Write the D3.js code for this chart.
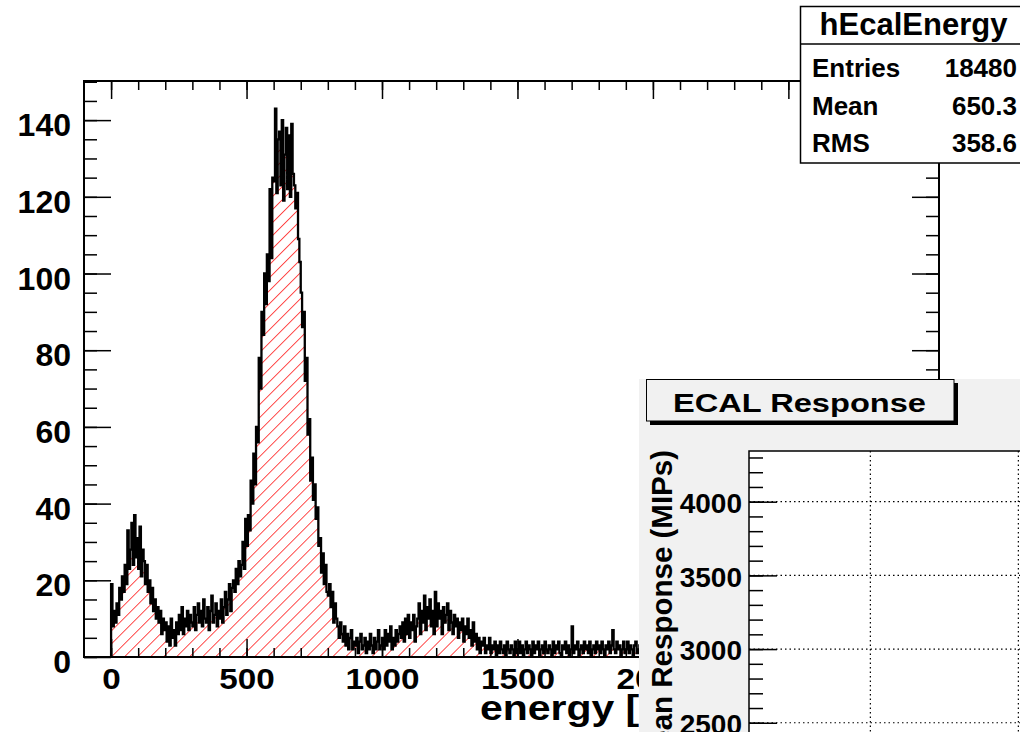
<!DOCTYPE html>
<html>
<head>
<meta charset="utf-8">
<script src="https://cdn.jsdelivr.net/npm/d3@7"></script>
<style>
  body { margin: 0; background: #fff; }
  svg { display: block; }
</style>
</head>
<body>
<div class="chart"></div>
<script>
// hEcalEnergy histogram, bins of 5 starting at 0
var binWidth = 5;
var energyCounts = [
  19, 8, 12, 9, 14, 11, 18, 15, 21, 17, 24, 19, 33, 23, 28, 35, 24, 37, 26, 31,          // 0-95
  23, 34, 21, 28, 25, 19, 24, 17, 20, 14, 18, 12, 15, 10, 13, 9, 12, 6, 10, 7,            // 100-195
  9, 4, 8, 3, 10, 5, 7, 3, 9, 6, 11, 7, 13, 6, 10, 8, 12, 7, 11, 9,                       // 200-295
  8, 13, 7, 11, 14, 9, 12, 8, 15, 10, 9, 13, 7, 12, 16, 9, 11, 14, 8, 12,                 // 300-395
  10, 15, 9, 13, 17, 11, 15, 19, 12, 18, 20, 17, 23, 19, 25, 21, 24, 30, 23, 36,          // 400-495
  29, 37, 33, 46, 40, 53, 45, 60, 56, 78, 70, 90, 84, 100, 92, 105, 98, 122, 104, 125,    // 500-595
  124, 143, 121, 135, 137, 123, 140, 119, 131, 138, 122, 136, 120, 139, 126, 123, 117, 121, 109, 103, // 600-695
  95, 86, 90, 72, 78, 58, 62, 46, 52, 41, 45, 36, 39, 29, 31, 22, 27, 19, 24, 17,         // 700-795
  16, 19, 13, 17, 9, 14, 10, 8, 5, 9, 6, 4, 8, 3, 6, 2, 5, 7, 2, 4,                       // 800-895
  3, 5, 1, 4, 6, 2, 3, 5, 1, 4, 2, 6, 3, 1, 5, 2, 4, 7, 2, 3,                             // 900-995
  5, 2, 7, 3, 6, 4, 8, 2, 5, 3, 7, 4, 6, 8, 5, 9, 4, 10, 6, 11,                           // 1000-1095
  5, 9, 7, 11, 4, 8, 10, 14, 6, 12, 9, 16, 7, 13, 10, 15, 8, 12, 6, 17,                   // 1100-1195
  8, 14, 10, 12, 6, 13, 9, 11, 14, 7, 12, 9, 6, 11, 8, 10, 5, 9, 7, 10,                   // 1200-1295
  4, 8, 6, 10, 5, 7, 3, 9, 4, 6, 2, 5, 1, 4, 3, 5, 1, 3, 2, 5,                            // 1300-1395
  1, 3, 2, 4, 0, 3, 1, 4, 2, 1, 3, 0, 4, 2, 1, 3, 2, 0, 4, 1,                             // 1400-1495
  2, 4, 1, 3, 0, 2, 4, 1, 3, 2, 0, 4, 1, 3, 2, 4, 0, 2, 3, 1,                             // 1500-1595
  4, 2, 1, 3, 2, 0, 4, 1, 3, 2, 4, 1, 0, 3, 2, 4, 1, 3, 0, 2,                             // 1600-1695
  8, 1, 3, 2, 4, 0, 2, 3, 1, 4, 2, 3, 1, 4, 0, 2, 3, 1, 4, 2,                             // 1700-1795
  3, 1, 4, 2, 0, 3, 2, 4, 1, 3, 7, 2, 1, 4, 2, 3, 0, 2, 4, 1,                             // 1800-1895
  2, 4, 1, 3, 2, 0, 3, 4, 1, 2, 3, 1, 4, 2, 0, 3, 2, 4, 1, 3                              // 1900-1995
];
var xTicks = [0, 500, 1000, 1500, 2000, 2500, 3000];
var yTicks = [0, 20, 40, 60, 80, 100, 120, 140];
var statsNames = ["Entries", "Mean", "RMS"];
var statsValues = ["18480", "650.3", "358.6"];
var ecalYTicks = [2500, 3000, 3500, 4000];
var ecalXTicks = [10, 20];

var svgWidth = 1020, svgHeight = 732;
var frame = {left: 84, top: 81, right: 939, bottom: 657};
var fontFam = "'Liberation Sans', Arial, Helvetica, sans-serif";

var svg = d3.select(".chart").append("svg")
    .attr("width", svgWidth)
    .attr("height", svgHeight)
    .attr("font-family", fontFam)
    .attr("font-weight", "bold");

var x = d3.scaleLinear().domain([-100, 3056]).range([frame.left, frame.right]);
var y = d3.scaleLinear().domain([0, 150.2]).range([frame.bottom, frame.top]);

// hatch pattern (ROOT style 3004, red)
var defs = svg.append("defs");
defs.append("pattern")
    .attr("id", "hatch")
    .attr("patternUnits", "userSpaceOnUse")
    .attr("width", 9.2).attr("height", 9.2)
    .attr("patternTransform", "rotate(45)")
  .append("line")
    .attr("x1", 0).attr("y1", 0).attr("x2", 0).attr("y2", 9.2)
    .attr("stroke", "#ff0000").attr("stroke-width", 1.4);
defs.append("clipPath").attr("id", "frameClip")
  .append("rect")
    .attr("x", frame.left).attr("y", frame.top)
    .attr("width", frame.right - frame.left).attr("height", frame.bottom - frame.top);

var bins = energyCounts.map((c, i) => ({x: i * binWidth, y: c}));
var endX = energyCounts.length * binWidth;
var lastY = energyCounts[energyCounts.length - 1];

var histGroup = svg.append("g").attr("clip-path", "url(#frameClip)");

// hatched fill under the histogram
var area = d3.area()
    .x(d => x(d.x))
    .y0(y(0))
    .y1(d => y(d.y))
    .curve(d3.curveStepAfter);
histGroup.append("path")
    .datum(bins.concat([{x: endX, y: lastY}]))
    .attr("d", area)
    .attr("fill", "url(#hatch)");

// black outline
var line = d3.line()
    .x(d => x(d.x))
    .y(d => y(d.y))
    .curve(d3.curveStepAfter);
histGroup.append("path")
    .datum([{x: 0, y: 0}].concat(bins).concat([{x: endX, y: lastY}, {x: endX, y: 0}]))
    .attr("d", line)
    .attr("fill", "none")
    .attr("stroke", "#000")
    .attr("stroke-width", 2.3);

// axes, ROOT style ticks pointing inwards
function styleAxis(g) {
    g.select(".domain").remove();
    g.selectAll("line").attr("stroke-width", 1.5);
    g.attr("font-family", fontFam).attr("font-weight", "bold");
}
var xMinor = d3.range(0, 3001, 100);
var yMinor = d3.range(0, 151, 5);

svg.append("g")
    .attr("transform", `translate(0,${frame.bottom})`)
    .call(d3.axisBottom(x).tickValues(xMinor).tickSize(-9).tickFormat(""))
    .call(styleAxis);
var bottomMajor = svg.append("g")
    .attr("transform", `translate(0,${frame.bottom})`)
    .call(d3.axisBottom(x).tickValues(xTicks).tickSize(-18).tickPadding(11).tickFormat(d3.format("d")))
    .call(styleAxis);
bottomMajor.selectAll("text")
    .attr("font-size", 29)
    .attr("textLength", d => String(d).length * 18.5)
    .attr("lengthAdjust", "spacingAndGlyphs");

svg.append("g")
    .attr("transform", `translate(0,${frame.top})`)
    .call(d3.axisTop(x).tickValues(xMinor).tickSize(-9).tickFormat(""))
    .call(styleAxis);
svg.append("g")
    .attr("transform", `translate(0,${frame.top})`)
    .call(d3.axisTop(x).tickValues(xTicks).tickSize(-18).tickFormat(""))
    .call(styleAxis);

svg.append("g")
    .attr("transform", `translate(${frame.left},0)`)
    .call(d3.axisLeft(y).tickValues(yMinor).tickSize(-13).tickFormat(""))
    .call(styleAxis);
var leftMajor = svg.append("g")
    .attr("transform", `translate(${frame.left},0)`)
    .call(d3.axisLeft(y).tickValues(yTicks).tickSize(-27).tickPadding(13))
    .call(styleAxis);
leftMajor.selectAll("text").attr("font-size", 32).attr("dy", "0.49em");

svg.append("g")
    .attr("transform", `translate(${frame.right},0)`)
    .call(d3.axisRight(y).tickValues(yMinor).tickSize(-13).tickFormat(""))
    .call(styleAxis);
svg.append("g")
    .attr("transform", `translate(${frame.right},0)`)
    .call(d3.axisRight(y).tickValues(yTicks).tickSize(-27).tickFormat(""))
    .call(styleAxis);

// frame
svg.append("rect")
    .attr("x", frame.left).attr("y", frame.top)
    .attr("width", frame.right - frame.left).attr("height", frame.bottom - frame.top)
    .attr("fill", "none").attr("stroke", "#000").attr("stroke-width", 2);

// x title
svg.append("text")
    .attr("transform", "translate(480,720) scale(1.17,1)")
    .attr("font-size", 35)
    .text("energy [MIPs]");

// stats box
var stats = svg.append("g");
stats.append("rect")
    .attr("x", 800.5).attr("y", 6.5).attr("width", 240).attr("height", 156.5)
    .attr("fill", "#fff").attr("stroke", "#000").attr("stroke-width", 1.5);
stats.append("line")
    .attr("x1", 800.5).attr("x2", 1020).attr("y1", 44).attr("y2", 44)
    .attr("stroke", "#000").attr("stroke-width", 1.5);
stats.append("text")
    .attr("x", 913.5).attr("y", 35)
    .attr("text-anchor", "middle")
    .attr("font-size", 31)
    .text("hEcalEnergy");
var rowY = d3.scalePoint().domain(statsNames).range([77, 152]);
stats.selectAll(".sname").data(statsNames).join("text")
    .attr("class", "sname")
    .attr("x", 812).attr("y", d => rowY(d))
    .attr("font-size", 26)
    .text(d => d);
stats.selectAll(".sval").data(statsValues).join("text")
    .attr("class", "sval")
    .attr("x", 1017).attr("y", (d, i) => rowY(statsNames[i]))
    .attr("text-anchor", "end")
    .attr("font-size", 26)
    .text(d => d);

// overlapping ECAL Response pad
var pad = svg.append("g");
pad.append("rect")
    .attr("x", 639).attr("y", 379).attr("width", 400).attr("height", 360)
    .attr("fill", "#f1f1f1");

var ecalFrame = {left: 749, top: 451};
var ey = d3.scaleLinear().domain([2400, 4344]).range([737.5, ecalFrame.top]);
var ex = d3.scaleLinear().domain([1.8, 22]).range([ecalFrame.left, ecalFrame.left + 20.2 * 14.8]);

pad.append("rect")
    .attr("x", ecalFrame.left).attr("y", ecalFrame.top)
    .attr("width", 320).attr("height", 300)
    .attr("fill", "#fff").attr("stroke", "#000").attr("stroke-width", 1.5);

// dotted grid
pad.selectAll(".hgrid").data(ecalYTicks).join("line")
    .attr("class", "hgrid")
    .attr("x1", ecalFrame.left).attr("x2", 1020)
    .attr("y1", d => ey(d)).attr("y2", d => ey(d))
    .attr("stroke", "#000").attr("stroke-width", 1.2)
    .attr("stroke-dasharray", "1.5,3");
pad.selectAll(".vgrid").data(ecalXTicks).join("line")
    .attr("class", "vgrid")
    .attr("x1", d => ex(d)).attr("x2", d => ex(d))
    .attr("y1", ecalFrame.top).attr("y2", svgHeight)
    .attr("stroke", "#000").attr("stroke-width", 1.2)
    .attr("stroke-dasharray", "1.5,3");

pad.append("g")
    .attr("transform", `translate(${ecalFrame.left},0)`)
    .call(d3.axisLeft(ey).tickValues(d3.range(2400, 4344, 100)).tickSize(-14).tickFormat(""))
    .call(styleAxis);
var ecalLeft = pad.append("g")
    .attr("transform", `translate(${ecalFrame.left},0)`)
    .call(d3.axisLeft(ey).tickValues(ecalYTicks).tickSize(-28).tickPadding(7).tickFormat(d3.format("d")))
    .call(styleAxis);
ecalLeft.selectAll("text").attr("font-size", 28).attr("dy", "0.38em");

pad.append("text")
    .attr("transform", "translate(672,450) rotate(-90)")
    .attr("text-anchor", "end")
    .attr("font-size", 29.5)
    .text("Mean Response (MIPs)");

// title box with shadow
pad.append("rect")
    .attr("x", 650).attr("y", 383).attr("width", 308).attr("height", 42)
    .attr("fill", "#000");
pad.append("rect")
    .attr("x", 646.5).attr("y", 379.5).attr("width", 307.5).attr("height", 41.5)
    .attr("fill", "#f1f1f1").attr("stroke", "#000").attr("stroke-width", 1);
pad.append("text")
    .attr("x", 673).attr("y", 411.5)
    .attr("font-size", 26)
    .attr("textLength", 253)
    .attr("lengthAdjust", "spacingAndGlyphs")
    .text("ECAL Response");
</script>
</body>
</html>
